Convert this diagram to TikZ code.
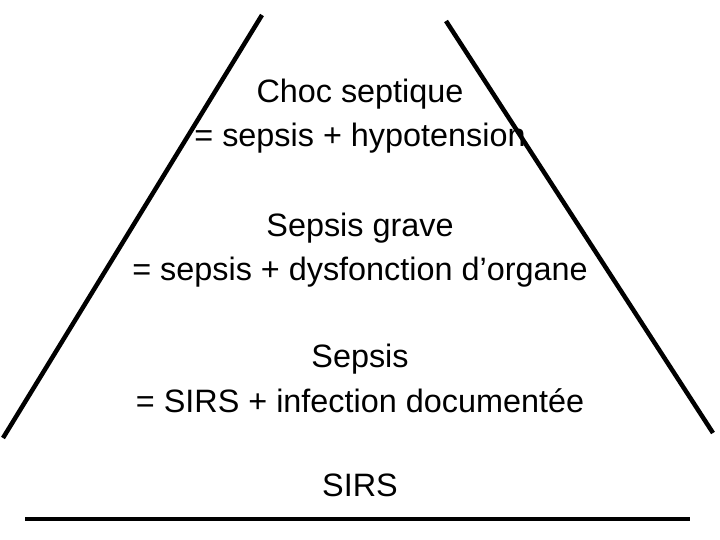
\documentclass[tikz,border=0pt]{standalone}
\usepackage{fontspec}
\setmainfont{Liberation Sans}
\begin{document}
\begin{tikzpicture}[x=1bp,y=-1bp,
    level/.style={align=center,anchor=base,inner sep=0pt,font=\fontsize{32.5}{45}\selectfont},
    edge/.style={line width=4.5bp}]
      \useasboundingbox (0,0) rectangle (720,540);
      % sides and base of the pyramid
      \draw[edge] (262,15) -- (3,438);
      \draw[edge] (446,21) -- (713,433);
      \draw[edge] (25,519) -- (690,519);
      % levels, top to bottom
      \node[level] (choc) at (360,147) {Choc septique\\= sepsis + hypotension};
      \node[level] (grave) at (360,281) {Sepsis grave\\= sepsis + dysfonction d’organe};
      \node[level] (sepsis) at (360,412) {Sepsis\\= SIRS + infection documentée};
      \node[level] (sirs) at (360,496) {SIRS};
\end{tikzpicture}
\end{document}
